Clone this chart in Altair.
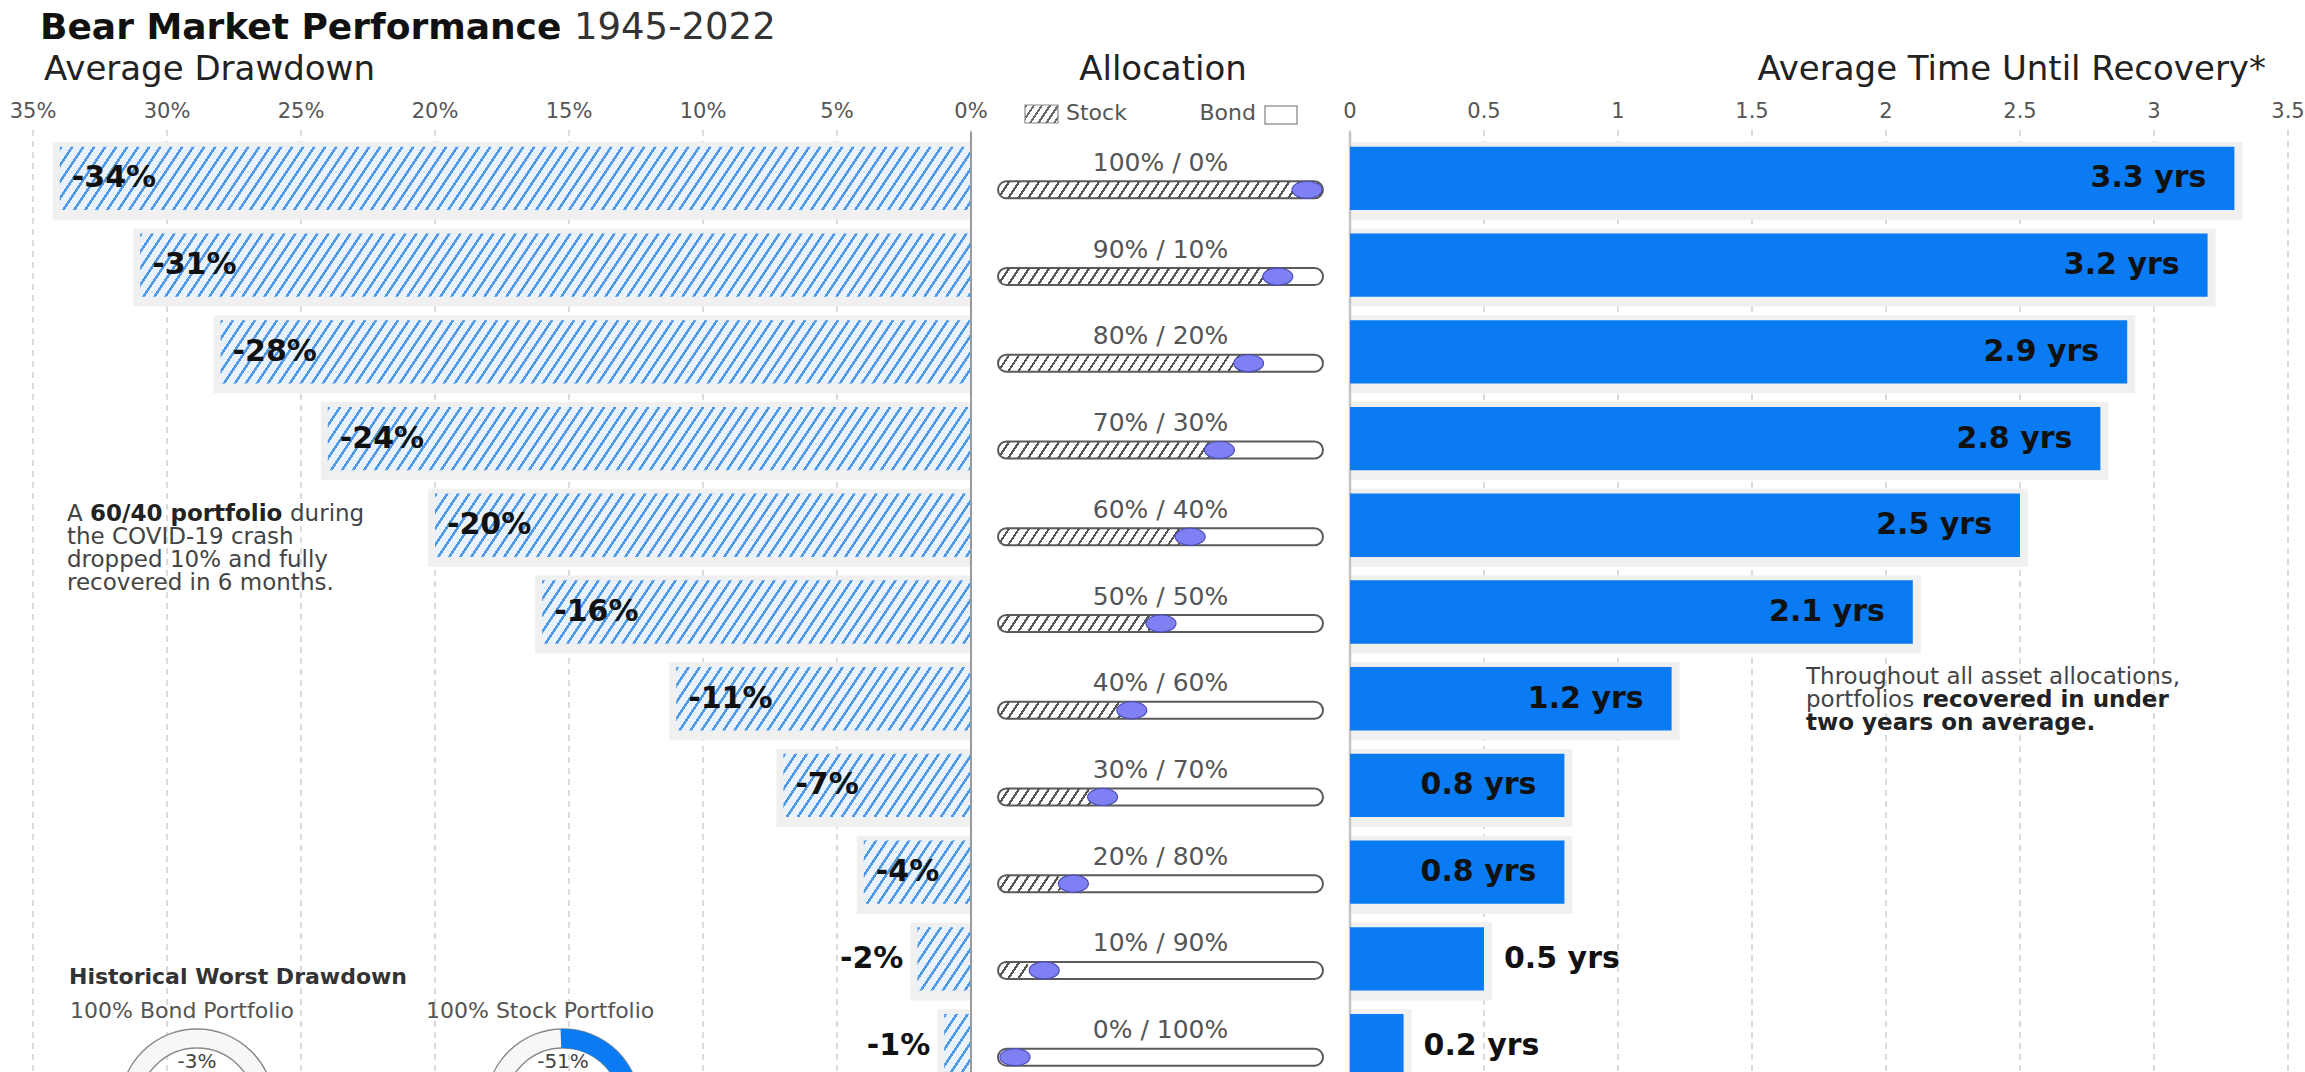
import math
import altair as alt
import pandas as pd

# ---------------------------------------------------------------- data
allocations = ["100% / 0%", "90% / 10%", "80% / 20%", "70% / 30%", "60% / 40%",
               "50% / 50%", "40% / 60%", "30% / 70%", "20% / 80%", "10% / 90%",
               "0% / 100%"]
stock_share = [100, 90, 80, 70, 60, 50, 40, 30, 20, 10, 0]
bond_share = [0, 10, 20, 30, 40, 50, 60, 70, 80, 90, 100]
avg_drawdown = [-34, -31, -28, -24, -20, -16, -11, -7, -4, -2, -1]
recovery_years = [3.3, 3.2, 2.9, 2.8, 2.5, 2.1, 1.2, 0.8, 0.8, 0.5, 0.2]
drawdown_ticks = [-35, -30, -25, -20, -15, -10, -5, 0]
recovery_ticks = [0, 0.5, 1, 1.5, 2, 2.5, 3, 3.5]
worst_portfolios = ["100% Bond Portfolio", "100% Stock Portfolio"]
worst_drawdown = [-3, -51]

# ---------------------------------------------------------------- layout
W, H = 2305, 1072
LEFT_RANGE = [33, 971]
RIGHT_RANGE = [1350, 2288]
TRACK_RANGE = [998, 1323]
KNOB_RANGE = [1015, 1307]
ROW_RANGE = [135, 1089]
PAD_IN, PAD_OUT = 0.27, 0.135
STEP = (ROW_RANGE[1] - ROW_RANGE[0]) / (len(allocations) - PAD_IN + 2 * PAD_OUT)
BAND = STEP * (1 - PAD_IN)
TRACK_H = 17
TRACK_SHIFT = 11.5
FONT = "DejaVu Sans"
BLUE = "#0a7bf2"

rows = pd.DataFrame({
    "alloc": allocations,
    "stock": stock_share,
    "bond": bond_share,
    "drawdown": avg_drawdown,
    "years": recovery_years,
})
rows["zero"] = 0
rows["total"] = rows["stock"] + rows["bond"]
rows["mid"] = rows["total"] / 2
rows["dd_text"] = [f"{v}%" for v in avg_drawdown]
rows["yr_text"] = [f"{v} yrs" for v in recovery_years]

left_ticks = pd.DataFrame({"tick": drawdown_ticks,
                           "label": [f"{abs(t)}%" for t in drawdown_ticks]})
right_ticks = pd.DataFrame({"tick": recovery_ticks,
                            "label": [f"{t:g}" for t in recovery_ticks]})

gauges = pd.DataFrame({"portfolio": worst_portfolios, "worst": worst_drawdown})
gauges["loss"] = gauges["worst"].abs()
gauges["start"] = 0
gauges["full"] = 100
gauges["label"] = [f"{v}%" for v in worst_drawdown]

one = pd.DataFrame({"zero": [0]})

x_left = alt.Scale(domain=[-35, 0], range=LEFT_RANGE, nice=False, zero=False)
x_right = alt.Scale(domain=[0, 3.5], range=RIGHT_RANGE, nice=False)
x_track = alt.Scale(domain=[0, 100], range=TRACK_RANGE, nice=False)
x_knob = alt.Scale(domain=[0, 100], range=KNOB_RANGE, nice=False)
y_rows = alt.Y("alloc:N", axis=None,
               scale=alt.Scale(domain=allocations, range=ROW_RANGE,
                               paddingInner=PAD_IN, paddingOuter=PAD_OUT))
theta_scale = alt.Scale(domain=[0, 100], range=[2.5 * math.pi, 1.5 * math.pi])

KNOB_SHAPE = "M-1,0 A1,0.57 0 1,1 1,0 A1,0.57 0 1,1 -1,0 Z"


def hatch(width_px, height_px, period, line_px, line_color, back_color, slope=1.5):
    """Diagonal '/' stripes as a hard-stop linear gradient sized to one rect."""
    span = slope * width_px + height_px
    r = height_px / (slope * width_px)
    k = (1 + r) / (1 + r * r)
    step = period * slope
    thick = line_px * slope
    stops = []
    pos = 0.0
    while pos < span:
        a = pos / span
        b = min((pos + thick) / span, 1.0)
        c = min((pos + step) / span, 1.0)
        stops += [(a, line_color), (b, line_color), (b, back_color), (c, back_color)]
        pos += step
    return alt.LinearGradient(
        gradient="linear",
        stops=[alt.GradientStop(color=col, offset=round(o, 5)) for o, col in stops],
        x1=0, y1=0, x2=k, y2=k * r,
    )


def note(text, x, y, size, color="#333333", weight="normal", align="left"):
    return alt.Chart(one).mark_text(
        text=text, font=FONT, fontSize=size, fontWeight=weight, color=color,
        align=align, baseline="middle",
    ).encode(x=alt.value(x), y=alt.value(y))


def qx(field, scale):
    return alt.X(f"{field}:Q", scale=scale, axis=None)


layers = []

# ---------------------------------------------------------------- grids
for ticks, scale in ((left_ticks, x_left), (right_ticks, x_right)):
    layers.append(
        alt.Chart(ticks).mark_rule(color="#cfcfcf", strokeWidth=1.5, strokeDash=[6, 5])
        .encode(x=qx("tick", scale), y=alt.value(130), y2=alt.value(H))
    )
    layers.append(
        alt.Chart(ticks).mark_text(font=FONT, fontSize=21, color="#555555",
                                   baseline="middle")
        .encode(x=qx("tick", scale), y=alt.value(112), text="label:N")
    )

# ---------------------------------------------------------------- soft shadows behind bars
layers.append(
    alt.Chart(rows).mark_bar(color="#f0f0f0", height=78, yOffset=2.5, xOffset=-7)
    .encode(x=qx("drawdown", x_left), x2="zero:Q", y=y_rows)
)
layers.append(
    alt.Chart(rows).mark_bar(color="#f0f0f0", height=78, yOffset=2.5, x2Offset=8)
    .encode(x=qx("zero", x_right), x2="years:Q", y=y_rows)
)

# ---------------------------------------------------------------- average drawdown (hatched)
px_per_pct = (LEFT_RANGE[1] - LEFT_RANGE[0]) / 35
for alloc, dd in zip(allocations, avg_drawdown):
    fill = hatch(abs(dd) * px_per_pct, BAND, 11, 3, "#4f9ae8", "#e9f1fa")
    layers.append(
        alt.Chart(rows).transform_filter(alt.datum.alloc == alloc)
        .mark_bar(fill=fill)
        .encode(x=qx("drawdown", x_left), x2="zero:Q", y=y_rows)
    )

# zero lines
layers.append(
    alt.Chart(one).mark_rule(color="#9a9a9a", strokeWidth=2)
    .encode(x=qx("zero", x_left), y=alt.value(132), y2=alt.value(H))
)
layers.append(
    alt.Chart(one).mark_rule(color="#c4c4c4", strokeWidth=2.5)
    .encode(x=qx("zero", x_right), y=alt.value(132), y2=alt.value(H))
)

# ---------------------------------------------------------------- recovery bars
layers.append(
    alt.Chart(rows).mark_bar(color=BLUE)
    .encode(x=qx("zero", x_right), x2="years:Q", y=y_rows)
)

# ---------------------------------------------------------------- bar labels
lab = dict(font=FONT, fontSize=30, fontWeight="bold", color="#111111", baseline="middle")
layers.append(
    alt.Chart(rows).transform_filter("datum.drawdown <= -4")
    .mark_text(align="left", dx=12, **lab)
    .encode(x=qx("drawdown", x_left), y=y_rows, text="dd_text:N")
)
layers.append(
    alt.Chart(rows).transform_filter("datum.drawdown > -4")
    .mark_text(align="right", dx=-14, **lab)
    .encode(x=qx("drawdown", x_left), y=y_rows, text="dd_text:N")
)
layers.append(
    alt.Chart(rows).transform_filter("datum.years >= 0.8")
    .mark_text(align="right", dx=-28, **lab)
    .encode(x=qx("years", x_right), y=y_rows, text="yr_text:N")
)
layers.append(
    alt.Chart(rows).transform_filter("datum.years < 0.8")
    .mark_text(align="left", dx=20, **lab)
    .encode(x=qx("years", x_right), y=y_rows, text="yr_text:N")
)

# ---------------------------------------------------------------- allocation sliders
layers.append(
    alt.Chart(rows).mark_text(font=FONT, fontSize=25, color="#555555", baseline="middle",
                              dy=-15.5)
    .encode(x=qx("mid", x_track), y=y_rows, text="alloc:N")
)
layers.append(
    alt.Chart(rows).mark_bar(fill="white", height=TRACK_H, yOffset=TRACK_SHIFT,
                             cornerRadius=TRACK_H / 2)
    .encode(x=qx("zero", x_track), x2="total:Q", y=y_rows)
)
track_px = TRACK_RANGE[1] - TRACK_RANGE[0]
for alloc, s in zip(allocations, stock_share):
    if s <= 0:
        continue
    fill = hatch(s / 100 * track_px, TRACK_H, 10, 2.6, "#555555", "#ffffff")
    layers.append(
        alt.Chart(rows).transform_filter(alt.datum.alloc == alloc)
        .mark_bar(fill=fill, height=TRACK_H, yOffset=TRACK_SHIFT, cornerRadius=TRACK_H / 2)
        .encode(x=qx("zero", x_track), x2="stock:Q", y=y_rows)
    )
layers.append(
    alt.Chart(rows).mark_bar(fillOpacity=0, stroke="#5a5a5a", strokeWidth=2,
                             height=TRACK_H, yOffset=TRACK_SHIFT, cornerRadius=TRACK_H / 2)
    .encode(x=qx("zero", x_track), x2="total:Q", y=y_rows)
)
layers.append(
    alt.Chart(rows).mark_point(shape=KNOB_SHAPE, size=900, filled=True, fill="#7f80f3",
                               stroke="#4d4db8", strokeWidth=1.2, opacity=1,
                               yOffset=TRACK_SHIFT)
    .encode(x=qx("stock", x_knob), y=y_rows)
)

# ---------------------------------------------------------------- headings
layers += [
    note("Bear Market Performance", 40, 28, 36, "#111111", "bold"),
    note("1945-2022", 574, 28, 37, "#333333"),
    note("Average Drawdown", 44, 70, 34, "#222222"),
    note("Allocation", 1163, 70, 34, "#222222", align="center"),
    note("Average Time Until Recovery*", 2266, 70, 34, "#222222", align="right"),
    note("Stock", 1066, 113, 22, "#555555"),
    note("Bond", 1256, 113, 22, "#555555", align="right"),
]
layers.append(
    alt.Chart(one).mark_rect(fill=hatch(33, 18, 8, 2.5, "#666666", "#ffffff"),
                             stroke="#8a8a8a", strokeWidth=1.2)
    .encode(x=alt.value(1025), x2=alt.value(1058), y=alt.value(105), y2=alt.value(123))
)
layers.append(
    alt.Chart(one).mark_rect(fill="white", stroke="#9a9a9a", strokeWidth=1.5)
    .encode(x=alt.value(1265), x2=alt.value(1297), y=alt.value(106), y2=alt.value(124))
)

# ---------------------------------------------------------------- annotations
AN = 23
layers += [
    note("A", 67, 514, AN, "#444444"),
    note("60/40 portfolio", 90, 514, AN, "#222222", "bold"),
    note("during", 290, 514, AN, "#444444"),
    note("the COVID-19 crash", 67, 537, AN, "#444444"),
    note("dropped 10% and fully", 67, 560, AN, "#444444"),
    note("recovered in 6 months.", 67, 583, AN, "#444444"),
    note("Throughout all asset allocations,", 1806, 677, AN, "#444444"),
    note("portfolios", 1806, 700, AN, "#444444"),
    note("recovered in under", 1922, 700, AN, "#222222", "bold"),
    note("two years on average.", 1806, 723, AN, "#222222", "bold"),
    note("Historical Worst Drawdown", 69, 977, 22, "#333333", "bold"),
    note("100% Bond Portfolio", 70, 1011, 22, "#555555"),
    note("100% Stock Portfolio", 426, 1011, 22, "#555555"),
]

# ---------------------------------------------------------------- worst-drawdown gauges
GAUGE_Y = 1106
OUTER_R, INNER_R = 77, 58
for name, cx in zip(worst_portfolios, (197, 563)):
    g = alt.Chart(gauges).transform_filter(alt.datum.portfolio == name)
    layers.append(
        g.mark_arc(innerRadius=INNER_R, outerRadius=OUTER_R, fill="#f7f7f7",
                   stroke="#8a8a8a", strokeWidth=1.5)
        .encode(theta=alt.Theta("start:Q", scale=theta_scale, stack=None),
                theta2="full:Q", x=alt.value(cx), y=alt.value(GAUGE_Y))
    )
    layers.append(
        g.mark_arc(innerRadius=INNER_R, outerRadius=OUTER_R, fill=BLUE)
        .encode(theta=alt.Theta("start:Q", scale=theta_scale, stack=None),
                theta2="loss:Q", x=alt.value(cx), y=alt.value(GAUGE_Y))
    )
    layers.append(
        g.mark_text(font=FONT, fontSize=20, color="#444444", baseline="middle")
        .encode(text="label:N", x=alt.value(cx), y=alt.value(1062))
    )

chart = (
    alt.layer(*layers)
    .resolve_scale(x="independent")
    .properties(width=W, height=H, padding=0, background="white",
                autosize=alt.AutoSizeParams(type="none"))
    .configure_view(stroke=None)
)

chart.save("out.html", embed_options={"renderer": "svg", "actions": False})
